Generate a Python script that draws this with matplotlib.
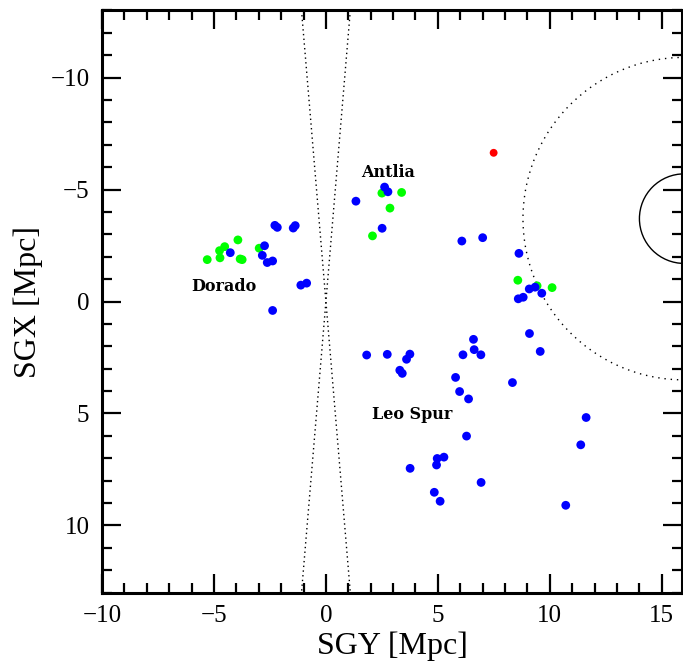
import numpy as np
import matplotlib
matplotlib.use("Agg")
import matplotlib.pyplot as plt
from matplotlib.patches import Circle
from matplotlib.ticker import MultipleLocator

# Galaxy positions in supergalactic coordinates [Mpc]
green_sgy = [-5.30, -4.75, -4.52, -3.93, -4.73, -3.83, -3.74, -2.98,
             2.50, 3.38, 2.86, 2.08, 8.57, 9.43, 10.10]
green_sgx = [-1.87, -2.27, -2.45, -2.75, -1.95, -1.90, -1.87, -2.38,
             -4.84, -4.87, -4.17, -2.93, -0.95, -0.70, -0.62]

blue_sgy = [-4.27, -2.74, -2.84, -2.62, -2.38, -2.28, -2.17, -1.46, -1.37,
            -1.12, -0.86, -2.38,
            1.34, 2.62, 2.77, 2.51, 6.07, 7.00,
            8.62, 9.08, 9.34, 9.64, 8.59, 8.81,
            1.82, 2.74, 3.60, 3.75, 3.30, 3.41, 6.12, 6.59, 6.62, 6.92,
            9.09, 9.57, 5.79, 5.97, 6.37, 8.33, 6.28,
            11.62, 11.38, 4.97, 5.27, 4.94, 6.93, 4.84, 5.10, 10.71, 3.76]
blue_sgx = [-2.18, -2.49, -2.06, -1.74, -1.81, -3.40, -3.31, -3.28, -3.39,
            -0.73, -0.82, 0.40,
            -4.48, -5.11, -4.90, -3.27, -2.70, -2.85,
            -2.15, -0.56, -0.64, -0.37, -0.12, -0.19,
            2.39, 2.36, 2.58, 2.35, 3.07, 3.21, 2.38, 1.69, 2.15, 2.38,
            1.43, 2.23, 3.39, 4.02, 4.35, 3.62, 6.01,
            5.18, 6.40, 7.01, 6.95, 7.30, 8.08, 8.52, 8.92, 9.10, 7.45]

red_sgy = [7.49]
red_sgx = [-6.64]

# Virgo cluster centre and radii
virgo_sgy, virgo_sgx = 16.0, -3.7
virgo_core_r = 2.0
virgo_infall_r = 7.2

# Zone of avoidance half-width at |SGX| = 13
zoa_halfwidth = 1.09

group_labels = ["Antlia", "Dorado", "Leo Spur"]
group_label_sgy = [2.77, -4.57, 3.84]
group_label_sgx = [-5.55, -0.45, 5.26]

plt.rcParams["font.family"] = ["Liberation Serif", "DejaVu Serif"]

fig = plt.figure(figsize=(6.83, 6.68), dpi=100)
ax = fig.add_axes([0.1493, 0.1123, 0.8492, 0.8727])

xlim = (-10, 15.9)
ylim = (13, -13)

dot = (0, (1, 2.4))
ax.plot([-zoa_halfwidth, zoa_halfwidth], [-13, 13], color="black", lw=1.0, ls=dot)
ax.plot([zoa_halfwidth, -zoa_halfwidth], [-13, 13], color="black", lw=1.0, ls=dot)

ax.add_patch(Circle((virgo_sgy, virgo_sgx), virgo_infall_r, fill=False,
                    edgecolor="black", lw=1.0, ls=(0, (1, 3.5))))
ax.add_patch(Circle((virgo_sgy, virgo_sgx), virgo_core_r, fill=False,
                    edgecolor="black", lw=1.0))

ms = 40
ax.scatter(green_sgy, green_sgx, s=ms, color="#00ff00", edgecolors="none", zorder=3)
ax.scatter(blue_sgy, blue_sgx, s=ms, color="#0000ff", edgecolors="none", zorder=4)
ax.scatter(red_sgy, red_sgx, s=ms * 0.8, color="#ff0000", edgecolors="none", zorder=4)

for txt, x, y in zip(group_labels, group_label_sgy, group_label_sgx):
    ax.text(x, y, txt, ha="center", va="baseline", fontsize=11.5,
            fontweight="bold", family=["DejaVu Serif"], zorder=5)

ax.set_xlim(*xlim)
ax.set_ylim(*ylim)
ax.set_aspect("equal", adjustable="box")

ax.xaxis.set_major_locator(MultipleLocator(5))
ax.xaxis.set_minor_locator(MultipleLocator(1))
ax.yaxis.set_major_locator(MultipleLocator(5))
ax.yaxis.set_minor_locator(MultipleLocator(1))
ax.tick_params(which="both", direction="in", top=True, right=True,
               labelsize=18, width=1.6)
ax.tick_params(which="major", length=14, pad=9)
ax.tick_params(which="minor", length=7)

for sp in ax.spines.values():
    sp.set_linewidth(2.2)

ax.set_xlabel("SGY [Mpc]", fontsize=23, labelpad=3)
ax.set_ylabel("SGX [Mpc]", fontsize=23, labelpad=5)

fig.savefig("out.png", dpi=100)
